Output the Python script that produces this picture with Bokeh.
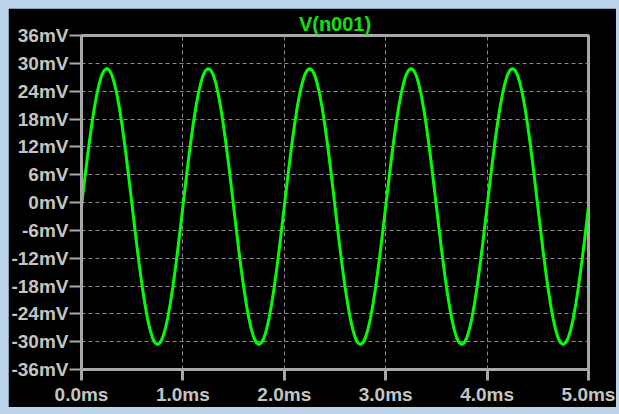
from bokeh.plotting import figure
from bokeh.layouts import column
from bokeh.models import FixedTicker, ColumnDataSource
from bokeh.embed import file_html
from bokeh.resources import INLINE

# ---- data ----
# one period of V(n001) in mV, sampled every 0.025 ms (the five periods look identical)
period_mv = [-0.85, 3.80, 8.34, 12.66, 16.64, 20.19, 23.22, 25.66, 27.45, 28.53,
             28.90, 28.53, 27.45, 25.66, 23.22, 20.19, 16.64, 12.66, 8.34, 3.80,
             -0.85, -5.50, -10.04, -14.36, -18.34, -21.89, -24.92, -27.36, -29.15, -30.23,
             -30.60, -30.23, -29.15, -27.36, -24.92, -21.89, -18.34, -14.36, -10.04, -5.50]
n_periods = 5
v_mv = period_mv * n_periods + [period_mv[0]]
t_ms = [i * 0.025 for i in range(len(v_mv))]

x_ticks = [0, 1, 2, 3, 4, 5]
x_labels = ["0.0ms", "1.0ms", "2.0ms", "3.0ms", "4.0ms", "5.0ms"]
y_ticks = [36, 30, 24, 18, 12, 6, 0, -6, -12, -18, -24, -30, -36]
y_labels = ["36mV", "30mV", "24mV", "18mV", "12mV", "6mV", "0mV", "-6mV",
            "-12mV", "-18mV", "-24mV", "-30mV", "-36mV"]
title_text = "V(n001)"

# ---- styling ----
TRACE = "#00ff00"
AXIS = "#a8a8a8"
LABEL = "#c4c4c4"
GRID = "#8a8a8a"
FONT = "Liberation Sans"

p = figure(width=608, height=399, output_backend="svg", toolbar_location=None,
           x_range=(0, 5), y_range=(-36, 36),
           min_border_left=72, min_border_right=28, min_border_top=27, min_border_bottom=38,
           background_fill_color="black", border_fill_color="black",
           title=title_text)
p.margin = (8, 3, 7, 8)

p.title.align = "center"
p.title.text_color = "#12e012"
p.title.text_font = FONT
p.title.text_font_size = "20px"
p.title.text_font_style = "bold"
p.title.standoff = 1

p.outline_line_color = AXIS
p.outline_line_width = 3
p.outline_line_alpha = 1

src = ColumnDataSource(dict(t=t_ms, v=v_mv))
p.line("t", "v", source=src, line_color=TRACE, line_width=3)

p.xaxis.ticker = FixedTicker(ticks=x_ticks)
p.xaxis.major_label_overrides = {t: l for t, l in zip(x_ticks, x_labels)}
p.yaxis.ticker = FixedTicker(ticks=y_ticks)
p.yaxis.major_label_overrides = {t: l for t, l in zip(y_ticks, y_labels)}

for ax in (p.xaxis[0], p.yaxis[0]):
    ax.axis_line_color = AXIS
    ax.axis_line_width = 3
    ax.major_tick_line_color = AXIS
    ax.minor_tick_line_color = None
    ax.major_tick_in = 0
    ax.major_label_text_color = LABEL
    ax.major_label_text_font = FONT
    ax.major_label_text_font_size = "19px"
    ax.major_label_text_font_style = "bold"

p.xaxis.major_tick_out = 11
p.xaxis.major_tick_line_width = 3
p.xaxis.major_label_standoff = 3
p.yaxis.major_tick_out = 12
p.yaxis.major_tick_line_width = 2
p.yaxis.major_label_standoff = 1

for g in (p.xgrid[0], p.ygrid[0]):
    g.grid_line_color = GRID
    g.grid_line_dash = "4 3"
    g.grid_line_width = 1

layout = column(p, styles={"background-color": "#bcd3ec"})

open("out.html", "w").write(file_html(layout, INLINE))
